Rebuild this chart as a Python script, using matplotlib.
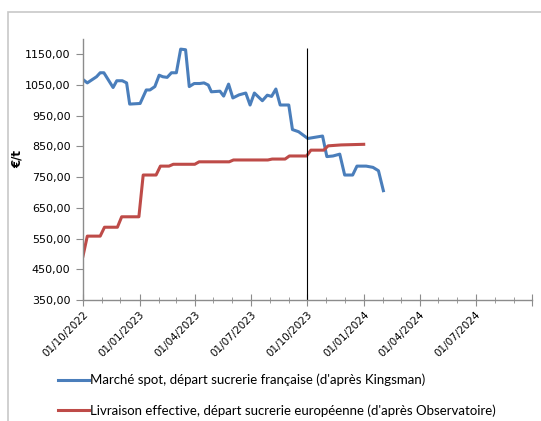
import numpy as np
import pandas as pd
import matplotlib
matplotlib.use("Agg")
import matplotlib.pyplot as plt
import matplotlib.dates as mdates
from matplotlib.patches import Rectangle
from matplotlib.ticker import FuncFormatter

# Spot market price, French sugar factory (Kingsman)
spot_dates = ["2022-10-01", "2022-10-08", "2022-10-23", "2022-10-29", "2022-11-04",
              "2022-11-19", "2022-11-25", "2022-12-04", "2022-12-11", "2022-12-16",
              "2023-01-02", "2023-01-12", "2023-01-18", "2023-01-26", "2023-02-02",
              "2023-02-08", "2023-02-15", "2023-02-22", "2023-03-02", "2023-03-09",
              "2023-03-17", "2023-03-23", "2023-03-31", "2023-04-09", "2023-04-16",
              "2023-04-23", "2023-04-28", "2023-05-12", "2023-05-18", "2023-05-26",
              "2023-06-02", "2023-06-12", "2023-06-23", "2023-06-30", "2023-07-07",
              "2023-07-20", "2023-07-28", "2023-08-04", "2023-08-11", "2023-08-18",
              "2023-09-01", "2023-09-07", "2023-09-17", "2023-10-02", "2023-10-26",
              "2023-11-02", "2023-11-12", "2023-11-23", "2023-12-01", "2023-12-14",
              "2023-12-21", "2024-01-05", "2024-01-16", "2024-01-25", "2024-02-02"]
spot_values = [1068, 1057, 1077, 1090, 1090,
               1042, 1064, 1064, 1057, 988,
               990, 1034, 1034, 1045, 1082,
               1077, 1075, 1090, 1090, 1167,
               1165, 1045, 1055, 1055, 1057,
               1050, 1028, 1030, 1014, 1053,
               1008, 1018, 1024, 985, 1024,
               999, 1017, 1013, 1037, 985,
               985, 905, 898, 876, 884,
               817, 819, 825, 757, 757,
               786, 786, 782, 771, 706]

# Effective delivery price, European sugar factory (Observatoire)
eu_dates = ["2022-10-01", "2022-10-08", "2022-10-29", "2022-11-05", "2022-11-26",
            "2022-12-03", "2022-12-31", "2023-01-07", "2023-01-28", "2023-02-04",
            "2023-02-18", "2023-02-25", "2023-04-01", "2023-04-08", "2023-05-27",
            "2023-06-03", "2023-07-29", "2023-08-05", "2023-08-26", "2023-09-02",
            "2023-09-30", "2023-10-07", "2023-10-28", "2023-11-04", "2023-11-25",
            "2024-01-01"]
eu_values = [493, 558, 558, 587, 587,
             621, 621, 757, 757, 786,
             786, 792, 792, 800, 800,
             806, 806, 809, 809, 819,
             819, 838, 838, 852, 855,
             857]

spot_label = "Marché spot, départ sucrerie française (d'après Kingsman)"
eu_label = "Livraison effective, départ sucrerie européenne (d'après Observatoire)"

x_start = pd.Timestamp("2022-10-01")
x_end = pd.Timestamp("2024-10-01")
marker_date = pd.Timestamp("2023-10-01")

plt.rcParams['font.family'] = ['DejaVu Sans']

fig = plt.figure(figsize=(5.41, 4.21), dpi=100)
ax = fig.add_axes([0.1534, 0.2874, 0.830, 0.620])

# light grey frame around the chart (cut off at right/bottom)
fig.patches.append(Rectangle((8 / 541, -0.1), 1.2, 1.1 - 12 / 421,
                             transform=fig.transFigure, fill=False,
                             edgecolor="#c8c8c8", linewidth=1.2))

ax.plot(pd.to_datetime(spot_dates), spot_values, color="#4a7ebb", lw=2.2,
        label=spot_label, solid_joinstyle="round")
ax.plot(pd.to_datetime(eu_dates), eu_values, color="#be4b48", lw=2.2,
        label=eu_label, solid_joinstyle="round")

ax.vlines(marker_date, 350, 1170, color="black", lw=0.8)

ax.set_xlim(x_start, x_end)
ax.set_ylim(350, 1200)
ax.set_yticks(np.arange(350, 1200, 100))
ax.yaxis.set_major_formatter(FuncFormatter(lambda v, p: f"{v:.2f}".replace(".", ",")))

ax.xaxis.set_major_locator(mdates.MonthLocator(bymonth=[1, 4, 7, 10]))
ax.xaxis.set_minor_locator(mdates.MonthLocator())


def date_fmt(v, p):
    # no label on the last tick (end of axis)
    if v >= mdates.date2num(x_end) - 1:
        return ""
    return mdates.num2date(v).strftime("%d/%m/%Y")


ax.xaxis.set_major_formatter(FuncFormatter(date_fmt))

for lab in ax.get_xticklabels():
    lab.set_rotation(45)
    lab.set_ha("right")
    lab.set_rotation_mode("anchor")

for side in ["top", "right"]:
    ax.spines[side].set_visible(False)
for side in ["left", "bottom"]:
    ax.spines[side].set_color("#8c8c8c")
    ax.spines[side].set_linewidth(1.0)

ax.tick_params(axis="y", direction="out", length=5, color="#8c8c8c",
               labelsize=8, pad=4)
ax.tick_params(axis="x", which="major", direction="inout", length=8,
               color="#8c8c8c", labelsize=7.5, pad=3)
ax.tick_params(axis="x", which="minor", direction="inout", length=4,
               color="#8c8c8c")

ax.set_ylabel("€/t", fontsize=8.5, fontweight="bold")
ax.yaxis.set_label_coords(-0.132, 0.54)

fig.legend(loc="upper left", bbox_to_anchor=(0.098, 0.125), frameon=False,
           prop={"family": ["Lato", "DejaVu Sans"], "size": 9.5},
           handlelength=2.3, handletextpad=0.1, labelspacing=1.35,
           borderaxespad=0)

fig.savefig("out.png", dpi=100)
